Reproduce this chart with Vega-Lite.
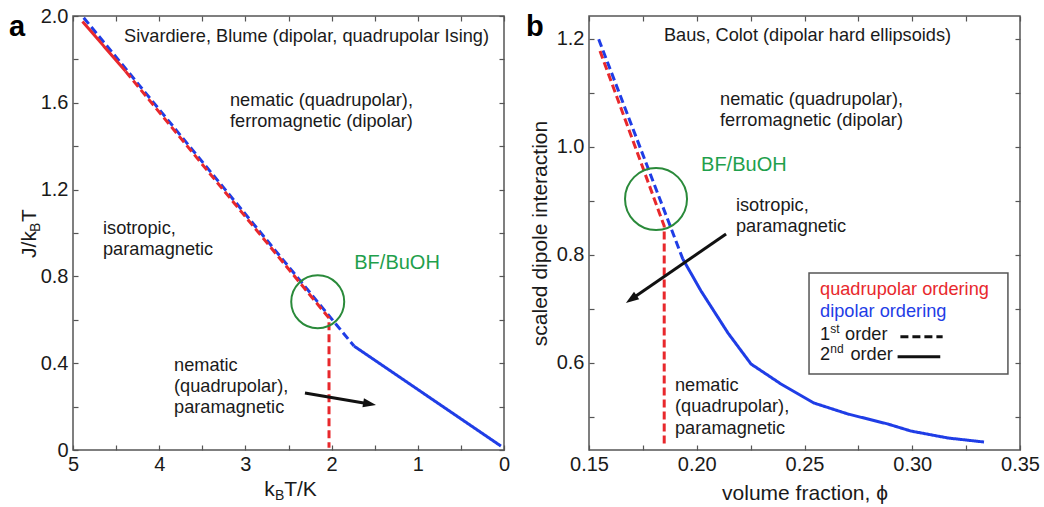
{
  "$schema": "https://vega.github.io/schema/vega-lite/v6.json",
  "padding": {"left": 8, "top": 5, "right": 5, "bottom": 5},
  "background": "white",
  "config": {
    "font": "Liberation Sans",
    "view": {"stroke": "#555", "strokeWidth": 1.5},
    "axis": {"grid": false, "domain": false, "tickColor": "#555", "tickWidth": 1.2, "labelColor": "#1a1a1a", "labelFontSize": 20, "labelFont": "Liberation Sans", "labelFlush": false, "labelOverlap": false, "titleFontWeight": "normal", "titleFontSize": 21, "titleColor": "#1a1a1a", "titleFont": "Liberation Sans"}
  },
  "datasets": {
    "a_lines": [
      {"seg": "a1", "series": "dipolar", "order": "1st", "i": 0, "x": 4.876, "y": 1.992},
      {"seg": "a1", "series": "dipolar", "order": "1st", "i": 1, "x": 1.74, "y": 0.479},
      {"seg": "a2", "series": "dipolar", "order": "2nd", "i": 0, "x": 1.74, "y": 0.479},
      {"seg": "a2", "series": "dipolar", "order": "2nd", "i": 1, "x": 0.035, "y": 0.018},
      {"seg": "a3", "series": "quadrupolar", "order": "2nd", "i": 0, "x": 4.89, "y": 1.975},
      {"seg": "a3", "series": "quadrupolar", "order": "2nd", "i": 1, "x": 4.39, "y": 1.745},
      {"seg": "a4", "series": "quadrupolar", "order": "1st", "i": 0, "x": 4.39, "y": 1.745},
      {"seg": "a4", "series": "quadrupolar", "order": "1st", "i": 1, "x": 2.03, "y": 0.608},
      {"seg": "a4", "series": "quadrupolar", "order": "1st", "i": 2, "x": 2.03, "y": 0.01}
    ],
    "a_circle": [{"x": 2.161, "y": 0.683}],
    "a_notes": [
      {"t": "Sivardiere, Blume (dipolar, quadrupolar Ising)", "x": 4.408, "y": 1.88},
      {"t": "nematic (quadrupolar),\nferromagnetic (dipolar)", "x": 3.179, "y": 1.585},
      {"t": "isotropic,\nparamagnetic", "x": 4.652, "y": 0.994},
      {"t": "nematic\n(quadrupolar),\nparamagnetic", "x": 3.828, "y": 0.363}
    ],
    "a_bf": [{"t": "BF/BuOH", "x": 1.737, "y": 0.833}],
    "a_arrow": [{"x": 2.309, "y": 0.263, "x2": 1.559, "y2": 0.2124}],
    "a_tag": [{"t": "a", "x": 5.742, "y": 1.908}],
    "a_xt_main": [{"t": "k", "x": 2.781, "y": -0.212}, {"t": "T/K", "x": 2.55, "y": -0.212}],
    "a_xt_sub": [{"t": "B", "x": 2.657, "y": -0.212}],
    "a_yt_main": [{"t": "J/k", "x": 5.429, "y": 0.885}, {"t": "T", "x": 5.429, "y": 1.051}],
    "a_yt_sub": [{"t": "B", "x": 5.429, "y": 1.005}],
    "b_lines": [
      {"seg": "b1", "series": "dipolar", "order": "1st", "i": 0, "x": 0.1545, "y": 1.1986},
      {"seg": "b1", "series": "dipolar", "order": "1st", "i": 1, "x": 0.1935, "y": 0.792},
      {"seg": "b2", "series": "dipolar", "order": "2nd", "i": 0, "x": 0.1935, "y": 0.792},
      {"seg": "b2", "series": "dipolar", "order": "2nd", "i": 1, "x": 0.202, "y": 0.7324},
      {"seg": "b2", "series": "dipolar", "order": "2nd", "i": 2, "x": 0.2145, "y": 0.6546},
      {"seg": "b2", "series": "dipolar", "order": "2nd", "i": 3, "x": 0.2252, "y": 0.5972},
      {"seg": "b2", "series": "dipolar", "order": "2nd", "i": 4, "x": 0.2391, "y": 0.5602},
      {"seg": "b2", "series": "dipolar", "order": "2nd", "i": 5, "x": 0.2544, "y": 0.525},
      {"seg": "b2", "series": "dipolar", "order": "2nd", "i": 6, "x": 0.2702, "y": 0.5046},
      {"seg": "b2", "series": "dipolar", "order": "2nd", "i": 7, "x": 0.2887, "y": 0.4861},
      {"seg": "b2", "series": "dipolar", "order": "2nd", "i": 8, "x": 0.2994, "y": 0.4731},
      {"seg": "b2", "series": "dipolar", "order": "2nd", "i": 9, "x": 0.3166, "y": 0.4602},
      {"seg": "b2", "series": "dipolar", "order": "2nd", "i": 10, "x": 0.3333, "y": 0.4528},
      {"seg": "b3", "series": "quadrupolar", "order": "1st", "i": 0, "x": 0.1551, "y": 1.177},
      {"seg": "b3", "series": "quadrupolar", "order": "1st", "i": 1, "x": 0.1849, "y": 0.8528},
      {"seg": "b3", "series": "quadrupolar", "order": "1st", "i": 2, "x": 0.1849, "y": 0.4473}
    ],
    "b_circle": [{"x": 0.1811, "y": 0.9028}],
    "b_notes": [
      {"t": "Baus, Colot (dipolar hard ellipsoids)", "x": 0.1848, "y": 1.1954},
      {"t": "nematic (quadrupolar),\nferromagnetic (dipolar)", "x": 0.2108, "y": 1.0769},
      {"t": "isotropic,\nparamagnetic", "x": 0.2182, "y": 0.8806},
      {"t": "nematic\n(quadrupolar),\nparamagnetic", "x": 0.1899, "y": 0.5473},
      {"t": "1", "x": 0.2572, "y": 0.6417},
      {"t": "order", "x": 0.2688, "y": 0.6417},
      {"t": "2", "x": 0.2572, "y": 0.6046},
      {"t": "order", "x": 0.2713, "y": 0.6046}
    ],
    "b_sup": [{"t": "st", "x": 0.262, "y": 0.6417}, {"t": "nd", "x": 0.262, "y": 0.6046}],
    "b_legtext": [
      {"t": "quadrupolar ordering", "series": "quadrupolar", "x": 0.2572, "y": 0.7245},
      {"t": "dipolar ordering", "series": "dipolar", "x": 0.2572, "y": 0.6843}
    ],
    "b_legbox": [{"x": 0.2521, "x2": 0.3444, "y": 0.7658, "y2": 0.5787}],
    "b_leglines": [
      {"seg": "l1", "order": "1st", "i": 0, "x": 0.2945, "y": 0.6478},
      {"seg": "l1", "order": "1st", "i": 1, "x": 0.3141, "y": 0.6478},
      {"seg": "l2", "order": "2nd", "i": 0, "x": 0.2932, "y": 0.6108},
      {"seg": "l2", "order": "2nd", "i": 1, "x": 0.313, "y": 0.6108}
    ],
    "b_bf": [{"t": "BF/BuOH", "x": 0.202, "y": 0.9547}],
    "b_arrow": [{"x": 0.2136, "y": 0.838, "x2": 0.1696, "y2": 0.7171}],
    "b_tag": [{"t": "b", "x": 0.1208, "y": 1.2047}]
  },
  "spacing": 85,
  "bounds": "flush",
  "hconcat": [
    {
      "width": 431,
      "height": 434,
      "resolve": {"axis": {"x": "independent", "y": "independent"}},
      "layer": [
        {
          "data": {"name": "a_lines"},
          "mark": {"type": "line", "strokeWidth": 3, "strokeCap": "butt"},
          "encoding": {
            "x": {"field": "x", "type": "quantitative", "scale": {"domain": [0, 5], "reverse": true, "nice": false, "zero": false},
              "axis": {"values": [0, 0.5, 1, 1.5, 2, 2.5, 3, 3.5, 4, 4.5, 5], "labelExpr": "round(datum.value*2)%2==0 ? format(datum.value,'d') : ''", "tickSize": -5, "labelPadding": 9, "title": null}},
            "y": {"field": "y", "type": "quantitative", "scale": {"domain": [0, 2], "nice": false, "zero": false},
              "axis": {"values": [0, 0.2, 0.4, 0.6, 0.8, 1, 1.2, 1.4, 1.6, 1.8, 2], "labelExpr": "datum.value==0 ? '0' : (round(datum.value*10)%4==0 ? format(datum.value,'.1f') : '')", "tickSize": -5, "labelPadding": 10, "title": null}},
            "color": {"field": "series", "type": "nominal", "scale": {"domain": ["quadrupolar", "dipolar"], "range": ["#e8282c", "#1f3de6"]}, "legend": null},
            "strokeDash": {"field": "order", "type": "nominal", "scale": {"domain": ["1st", "2nd"], "range": [[8, 4], [1, 0]]}, "legend": null},
            "detail": {"field": "seg"},
            "order": {"field": "i", "type": "quantitative"}
          }
        },
        {
          "data": {"name": "a_circle"},
          "mark": {"type": "point", "filled": false, "color": "#2a8a3a", "opacity": 1, "strokeWidth": 2, "size": 2809},
          "encoding": {
            "x": {"field": "x", "type": "quantitative", "axis": {"orient": "top", "values": [0, 0.5, 1, 1.5, 2, 2.5, 3, 3.5, 4, 4.5, 5], "labels": false, "tickSize": -5, "title": null}},
            "y": {"field": "y", "type": "quantitative", "axis": {"orient": "right", "values": [0, 0.2, 0.4, 0.6, 0.8, 1, 1.2, 1.4, 1.6, 1.8, 2], "labels": false, "tickSize": -5, "title": null}}
          }
        },
        {
          "data": {"name": "a_notes"},
          "mark": {"type": "text", "align": "left", "baseline": "alphabetic", "fontSize": 18.2, "lineBreak": "\n", "lineHeight": 21, "color": "#1a1a1a"},
          "encoding": {"x": {"field": "x", "type": "quantitative", "axis": null}, "y": {"field": "y", "type": "quantitative", "axis": null}, "text": {"field": "t"}}
        },
        {
          "data": {"name": "a_bf"},
          "mark": {"type": "text", "align": "left", "baseline": "alphabetic", "fontSize": 20, "color": "#1fa04c"},
          "encoding": {"x": {"field": "x", "type": "quantitative", "axis": null}, "y": {"field": "y", "type": "quantitative", "axis": null}, "text": {"field": "t"}}
        },
        {
          "data": {"name": "a_arrow"},
          "mark": {"type": "rule", "strokeWidth": 3, "color": "#111"},
          "encoding": {"x": {"field": "x", "type": "quantitative", "axis": null}, "y": {"field": "y", "type": "quantitative", "axis": null}, "x2": {"field": "x2"}, "y2": {"field": "y2"}}
        },
        {
          "data": {"name": "a_arrow"},
          "mark": {"type": "point", "shape": "M1,0L-1,-0.7L-1,0.7Z", "filled": true, "color": "#111", "opacity": 1, "size": 169, "angle": 9.6},
          "encoding": {"x": {"field": "x2", "type": "quantitative", "axis": null}, "y": {"field": "y2", "type": "quantitative", "axis": null}}
        },
        {
          "data": {"name": "a_tag"},
          "mark": {"type": "text", "align": "left", "baseline": "alphabetic", "fontSize": 29, "fontWeight": "bold", "color": "#000"},
          "encoding": {"x": {"field": "x", "type": "quantitative", "axis": null}, "y": {"field": "y", "type": "quantitative", "axis": null}, "text": {"field": "t"}}
        },
        {
          "data": {"name": "a_xt_main"},
          "mark": {"type": "text", "align": "left", "baseline": "alphabetic", "fontSize": 21, "color": "#1a1a1a"},
          "encoding": {"x": {"field": "x", "type": "quantitative", "axis": null}, "y": {"field": "y", "type": "quantitative", "axis": null}, "text": {"field": "t"}}
        },
        {
          "data": {"name": "a_xt_sub"},
          "mark": {"type": "text", "align": "left", "baseline": "alphabetic", "fontSize": 14, "dy": 4, "color": "#1a1a1a"},
          "encoding": {"x": {"field": "x", "type": "quantitative", "axis": null}, "y": {"field": "y", "type": "quantitative", "axis": null}, "text": {"field": "t"}}
        },
        {
          "data": {"name": "a_yt_main"},
          "mark": {"type": "text", "align": "left", "baseline": "alphabetic", "fontSize": 21, "angle": 270, "color": "#1a1a1a"},
          "encoding": {"x": {"field": "x", "type": "quantitative", "axis": null}, "y": {"field": "y", "type": "quantitative", "axis": null}, "text": {"field": "t"}}
        },
        {
          "data": {"name": "a_yt_sub"},
          "mark": {"type": "text", "align": "left", "baseline": "alphabetic", "fontSize": 14, "angle": 270, "dy": 4, "color": "#1a1a1a"},
          "encoding": {"x": {"field": "x", "type": "quantitative", "axis": null}, "y": {"field": "y", "type": "quantitative", "axis": null}, "text": {"field": "t"}}
        }
      ]
    },
    {
      "width": 431,
      "height": 434,
      "resolve": {"axis": {"x": "independent", "y": "independent"}},
      "layer": [
        {
          "data": {"name": "b_legbox"},
          "mark": {"type": "rect", "fill": "white", "stroke": "#555", "strokeWidth": 1.5},
          "encoding": {"x": {"field": "x", "type": "quantitative", "scale": {"domain": [0.15, 0.35], "nice": false, "zero": false},
              "axis": {"values": [0.15, 0.175, 0.2, 0.225, 0.25, 0.275, 0.3, 0.325, 0.35], "labelExpr": "round(datum.value*1000)%50==0 ? format(datum.value,'.2f') : ''", "tickSize": -5, "labelPadding": 9, "title": "volume fraction, ϕ", "titlePadding": 8}},
            "y": {"field": "y", "type": "quantitative", "scale": {"domain": [0.438, 1.2417], "nice": false, "zero": false},
              "axis": {"values": [0.5, 0.6, 0.7, 0.8, 0.9, 1, 1.1, 1.2], "labelExpr": "round(datum.value*10)%2==0 ? format(datum.value,'.1f') : ''", "tickSize": -5, "labelPadding": 10, "title": "scaled dipole interaction", "titlePadding": 6}},
            "x2": {"field": "x2"}, "y2": {"field": "y2"}}
        },
        {
          "data": {"name": "b_lines"},
          "mark": {"type": "line", "strokeWidth": 3, "strokeCap": "butt"},
          "encoding": {
            "x": {"field": "x", "type": "quantitative", "axis": null},
            "y": {"field": "y", "type": "quantitative", "axis": null},
            "color": {"field": "series", "type": "nominal", "scale": {"domain": ["quadrupolar", "dipolar"], "range": ["#e8282c", "#1f3de6"]}, "legend": null},
            "strokeDash": {"field": "order", "type": "nominal", "scale": {"domain": ["1st", "2nd"], "range": [[8, 4], [1, 0]]}, "legend": null},
            "detail": {"field": "seg"},
            "order": {"field": "i", "type": "quantitative"}
          }
        },
        {
          "data": {"name": "b_circle"},
          "mark": {"type": "point", "filled": false, "color": "#2a8a3a", "opacity": 1, "strokeWidth": 2, "size": 3844},
          "encoding": {
            "x": {"field": "x", "type": "quantitative", "axis": {"orient": "top", "values": [0.15, 0.175, 0.2, 0.225, 0.25, 0.275, 0.3, 0.325, 0.35], "labels": false, "tickSize": -5, "title": null}},
            "y": {"field": "y", "type": "quantitative", "axis": {"orient": "right", "values": [0.5, 0.6, 0.7, 0.8, 0.9, 1, 1.1, 1.2], "labels": false, "tickSize": -5, "title": null}}
          }
        },
        {
          "data": {"name": "b_leglines"},
          "mark": {"type": "line", "strokeWidth": 3, "strokeCap": "butt", "color": "#111"},
          "encoding": {
            "x": {"field": "x", "type": "quantitative", "axis": null},
            "y": {"field": "y", "type": "quantitative", "axis": null},
            "strokeDash": {"field": "order", "type": "nominal", "legend": null},
            "detail": {"field": "seg"},
            "order": {"field": "i", "type": "quantitative"}
          }
        },
        {
          "data": {"name": "b_notes"},
          "mark": {"type": "text", "align": "left", "baseline": "alphabetic", "fontSize": 18.2, "lineBreak": "\n", "lineHeight": 21.5, "color": "#1a1a1a"},
          "encoding": {"x": {"field": "x", "type": "quantitative", "axis": null}, "y": {"field": "y", "type": "quantitative", "axis": null}, "text": {"field": "t"}}
        },
        {
          "data": {"name": "b_sup"},
          "mark": {"type": "text", "align": "left", "baseline": "alphabetic", "fontSize": 12, "dy": -7, "color": "#1a1a1a"},
          "encoding": {"x": {"field": "x", "type": "quantitative", "axis": null}, "y": {"field": "y", "type": "quantitative", "axis": null}, "text": {"field": "t"}}
        },
        {
          "data": {"name": "b_legtext"},
          "mark": {"type": "text", "align": "left", "baseline": "alphabetic", "fontSize": 18.2},
          "encoding": {"x": {"field": "x", "type": "quantitative", "axis": null}, "y": {"field": "y", "type": "quantitative", "axis": null}, "text": {"field": "t"}, "color": {"field": "series", "type": "nominal", "legend": null}}
        },
        {
          "data": {"name": "b_bf"},
          "mark": {"type": "text", "align": "left", "baseline": "alphabetic", "fontSize": 20, "color": "#1fa04c"},
          "encoding": {"x": {"field": "x", "type": "quantitative", "axis": null}, "y": {"field": "y", "type": "quantitative", "axis": null}, "text": {"field": "t"}}
        },
        {
          "data": {"name": "b_arrow"},
          "mark": {"type": "rule", "strokeWidth": 3, "color": "#111"},
          "encoding": {"x": {"field": "x", "type": "quantitative", "axis": null}, "y": {"field": "y", "type": "quantitative", "axis": null}, "x2": {"field": "x2"}, "y2": {"field": "y2"}}
        },
        {
          "data": {"name": "b_arrow"},
          "mark": {"type": "point", "shape": "M1,0L-1,-0.7L-1,0.7Z", "filled": true, "color": "#111", "opacity": 1, "size": 169, "angle": 145.4},
          "encoding": {"x": {"field": "x2", "type": "quantitative", "axis": null}, "y": {"field": "y2", "type": "quantitative", "axis": null}}
        },
        {
          "data": {"name": "b_tag"},
          "mark": {"type": "text", "align": "left", "baseline": "alphabetic", "fontSize": 29, "fontWeight": "bold", "color": "#000"},
          "encoding": {"x": {"field": "x", "type": "quantitative", "axis": null}, "y": {"field": "y", "type": "quantitative", "axis": null}, "text": {"field": "t"}}
        }
      ]
    }
  ]
}
